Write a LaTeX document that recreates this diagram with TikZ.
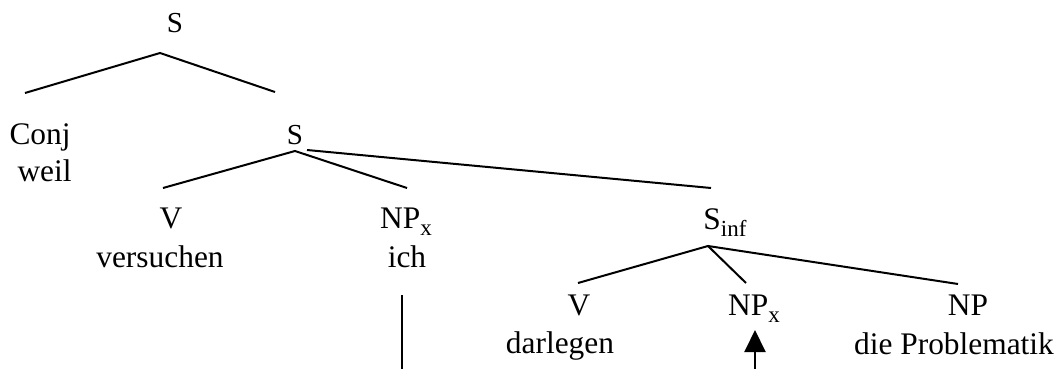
\documentclass[tikz,border=0pt]{standalone}
\usepackage{fontspec}
\setmainfont{Liberation Serif}
\usetikzlibrary{arrows.meta}
\newcommand{\idx}[1]{\raisebox{-0.25em}{\fontsize{11.5}{13}\selectfont #1}}

\begin{document}
\begin{tikzpicture}[
    x = 0.5pt,
    y = -0.5pt,
    cat/.style =
    { anchor    = base,
      inner sep = 0pt,
      font      = \fontsize{15.7}{19}\selectfont },
    catsmall/.style =
    { anchor    = base,
      inner sep = 0pt,
      font      = \fontsize{14.5}{17}\selectfont },
    word/.style =
    { cat },
    branch/.style =
    { line width = 1pt },
    trace/.style =
    { line width = 1pt,
      -{Triangle[width = 10.5pt, length = 11pt]} }
  ]
  \useasboundingbox (0,0) rectangle (1061,369);

  % categories and words
  \node[catsmall] (s) at (175,33) {S};
  \node[cat, anchor = base east] (conj) at (71,145) {Conj};
  \node[word, anchor = base east] (weil) at (72,182) {weil};
  \node[catsmall] (s2) at (295,145) {S};
  \node[cat] (v1) at (171,228) {V};
  \node[word] (versuchen) at (160,267) {versuchen};
  \node[cat] (npx1) at (406,228) {NP\idx{x}};
  \node[word] (ich) at (407,267) {ich};
  \node[cat] (sinf) at (725,229) {S\idx{inf}};
  \node[cat] (v2) at (579,315) {V};
  \node[word] (darlegen) at (560,353) {darlegen};
  \node[cat] (npx2) at (754,315) {NP\idx{x}};
  \node[cat] (np) at (968,315) {NP};
  \node[word] (problematik) at (954,354) {die Problematik};

  % branch points and line ends
  \coordinate (s-b) at (160,53);
  \coordinate (s-l) at (25,93);
  \coordinate (s-r) at (275,92);
  \coordinate (s2-b) at (295,151);
  \coordinate (s2-c) at (307,150);
  \coordinate (s2-l) at (163,188);
  \coordinate (s2-m) at (407,188);
  \coordinate (s2-r) at (711,188);
  \coordinate (sinf-b) at (708,246);
  \coordinate (sinf-l) at (578,283);
  \coordinate (sinf-m) at (746,283);
  \coordinate (sinf-r) at (958,284);
  \coordinate (ich-t) at (402,295);
  \coordinate (ich-b) at (402,369);
  \coordinate (npx2-t) at (755,330);
  \coordinate (npx2-b) at (755,369);

  \draw[branch] (s-l) -- (s-b) -- (s-r);
  \draw[branch] (s2-l) -- (s2-b) -- (s2-m);
  \draw[branch] (s2-c) -- (s2-r);
  \draw[branch] (sinf-l) -- (sinf-b) -- (sinf-m);
  \draw[branch] (sinf-b) -- (sinf-r);
  \draw[branch] (ich-t) -- (ich-b);
  \draw[trace] (npx2-b) -- (npx2-t);
\end{tikzpicture}
\end{document}
